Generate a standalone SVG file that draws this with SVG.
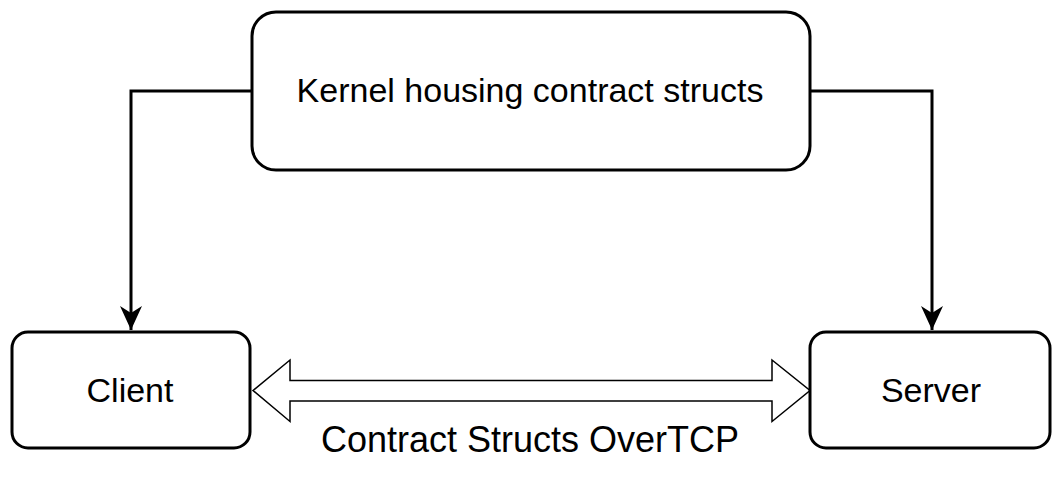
<svg xmlns="http://www.w3.org/2000/svg" width="1060" height="478" viewBox="0 0 1060 478">
<style>
.box{fill:#fff;stroke:#000;stroke-width:3}
.lbl{font-family:"Liberation Sans",Arial,Helvetica,sans-serif;font-size:34px;fill:#000;text-anchor:middle}
.edge{fill:none;stroke:#000;stroke-width:3}
</style>
<defs>
<marker id="arr" markerUnits="userSpaceOnUse" markerWidth="26" markerHeight="30" viewBox="-13 -27 26 30" refX="0" refY="0" orient="0" overflow="visible">
<path d="M0,0 L-11,-24 L0,-17 L11,-24 Z" fill="#000"/>
</marker>
</defs>
<g id="connectors">
<path class="edge" d="M252,91 H131 V330" marker-end="url(#arr)"/>
<path class="edge" d="M810,91 H932 V330" marker-end="url(#arr)"/>
<path d="M253,390.5 L290,360 V380.5 H772 V360 L810,390.5 L772,421.5 V401 H290 V421.5 Z" fill="#fff" stroke="#000" stroke-width="1.5" stroke-linejoin="miter"/>
</g>
<g id="kernel">
<rect class="box" x="252" y="12" width="558" height="158" rx="24" ry="24"/>
<text class="lbl" x="530" y="102">Kernel housing contract structs</text>
</g>
<g id="client">
<rect class="box" x="12" y="332" width="238" height="116" rx="16" ry="16"/>
<text class="lbl" x="130" y="402">Client</text>
</g>
<g id="server">
<rect class="box" x="810" y="332" width="240" height="116" rx="16" ry="16"/>
<text class="lbl" x="931" y="402">Server</text>
</g>
<text class="lbl" x="530" y="452" style="font-size:36px">Contract Structs OverTCP</text>
</svg>
